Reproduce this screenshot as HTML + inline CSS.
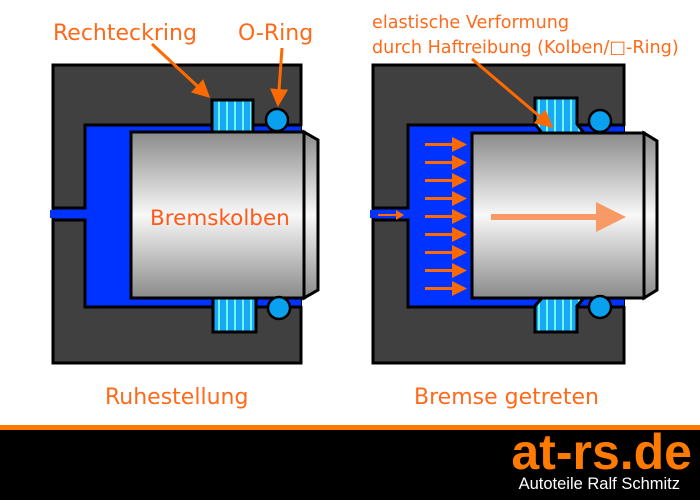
<!DOCTYPE html>
<html><head><meta charset="utf-8"><style>
html,body{margin:0;padding:0;background:#fff;width:700px;height:500px;overflow:hidden}
svg{display:block}
text{font-family:"DejaVu Sans","Liberation Sans",sans-serif}
</style></head><body>
<svg width="700" height="500" viewBox="0 0 700 500" xmlns="http://www.w3.org/2000/svg">
<defs>
<linearGradient id="pg" x1="0" y1="0" x2="0" y2="1">
<stop offset="0" stop-color="#8a8a8a"/><stop offset="0.5" stop-color="#f8f8f8"/><stop offset="1" stop-color="#8a8a8a"/>
</linearGradient>
<pattern id="st" width="8" height="10" patternUnits="userSpaceOnUse">
<rect width="8" height="10" fill="#19a8f5"/><rect x="2" width="2" height="10" fill="#6ff5ff"/>
</pattern>
<marker id="ah" markerWidth="6" markerHeight="6" refX="5" refY="3" orient="auto" markerUnits="strokeWidth"><path d="M0,0L6,3L0,6Z" fill="#ff6a00"/></marker>
</defs>

<!-- LEFT -->
<rect x="53" y="65" width="248" height="298" fill="#404040" stroke="#000" stroke-width="3"/>
<path d="M301,125 H85 V208 H53 V220 H85 V307 H301" fill="#0033ff" stroke="#000" stroke-width="3"/>
<rect x="50" y="210" width="36" height="8" fill="#0033ff"/>
<rect x="302" y="126" width="20" height="180" fill="#fff"/>
<rect x="212" y="100" width="41" height="33" fill="url(#st)" stroke="#000" stroke-width="3"/>
<rect x="213" y="298" width="43" height="34" fill="url(#st)" stroke="#000" stroke-width="3"/>
<rect x="131" y="132" width="173" height="166" fill="url(#pg)" stroke="#000" stroke-width="3"/>
<path d="M304,132 L318,140 V290 L304,298 Z" fill="url(#pg)" stroke="#000" stroke-width="3"/>
<circle cx="277" cy="120" r="11" fill="#0aa0f0" stroke="#000" stroke-width="2.5"/>
<circle cx="279" cy="308" r="11" fill="#0aa0f0" stroke="#000" stroke-width="2.5"/>
<text x="150" y="225" font-size="21.5" fill="#ff5a1a">Bremskolben</text>

<!-- RIGHT -->
<rect x="373" y="65" width="251" height="298" fill="#404040" stroke="#000" stroke-width="3"/>
<path d="M624,125 H408 V208 H373 V220 H408 V307 H624" fill="#0033ff" stroke="#000" stroke-width="3"/>
<rect x="370" y="210" width="40" height="8" fill="#0033ff"/>
<rect x="625" y="126" width="20" height="180" fill="#fff"/>
<polygon points="535,98 577,98 577,124 584,133 542,133 535,124" fill="url(#st)" stroke="#000" stroke-width="3"/>
<polygon points="542,298 584,298 577,306 577,332 535,332 535,306" fill="url(#st)" stroke="#000" stroke-width="3"/>
<rect x="472" y="133" width="172" height="165" fill="url(#pg)" stroke="#000" stroke-width="3"/>
<path d="M644,133 L657,141 V290 L644,298 Z" fill="url(#pg)" stroke="#000" stroke-width="3"/>
<circle cx="600" cy="121" r="11" fill="#0aa0f0" stroke="#000" stroke-width="2.5"/>
<circle cx="600" cy="307" r="11" fill="#0aa0f0" stroke="#000" stroke-width="2.5"/>
<g fill="#ff6a00">
<g id="fa"><rect x="425" y="143" width="28" height="3"/><polygon points="452,137 467,144.5 452,152"/></g>
<use href="#fa" y="18"/><use href="#fa" y="36"/><use href="#fa" y="54"/><use href="#fa" y="72"/>
<use href="#fa" y="90"/><use href="#fa" y="108"/><use href="#fa" y="126"/><use href="#fa" y="144"/>
<rect x="378" y="214" width="20" height="2"/><polygon points="396,210 404,215 396,220"/>
</g>
<rect x="491" y="214" width="108" height="6" fill="#f89a66"/>
<polygon points="596,202 626,217 596,232" fill="#f89a66"/>

<!-- labels & arrows -->
<text x="53" y="40" font-size="22" fill="#ff6a1a">Rechteckring</text>
<text x="238" y="40" font-size="22" fill="#ff6a1a">O-Ring</text>
<line x1="152" y1="44" x2="208" y2="96" stroke="#ff6a00" stroke-width="3" marker-end="url(#ah)"/>
<line x1="282" y1="48" x2="278" y2="104" stroke="#ff6a00" stroke-width="3" marker-end="url(#ah)"/>
<text x="372" y="28" font-size="17.6" fill="#ff6a1a">elastische Verformung</text>
<text x="372" y="53" font-size="17.6" fill="#ff6a1a">durch Haftreibung (Kolben/<tspan>□</tspan>-Ring)</text>
<line x1="472" y1="59" x2="551" y2="126" stroke="#ff6a00" stroke-width="3" marker-end="url(#ah)"/>
<text x="105" y="404" font-size="22" fill="#ff6a1a">Ruhestellung</text>
<text x="414" y="404" font-size="22" fill="#ff6a1a">Bremse getreten</text>

<!-- footer -->
<rect x="0" y="425" width="700" height="5" fill="#ff7a00"/>
<rect x="0" y="430" width="700" height="70" fill="#000"/>
<text x="692" y="469" text-anchor="end" font-weight="bold" font-size="50" fill="#ff7a00" style="font-family:'Liberation Sans',sans-serif">at-rs.de</text>
<text x="680" y="489" text-anchor="end" font-size="16.5" fill="#fff" style="font-family:'Liberation Sans',sans-serif">Autoteile Ralf Schmitz</text>
</svg>
</body></html>
